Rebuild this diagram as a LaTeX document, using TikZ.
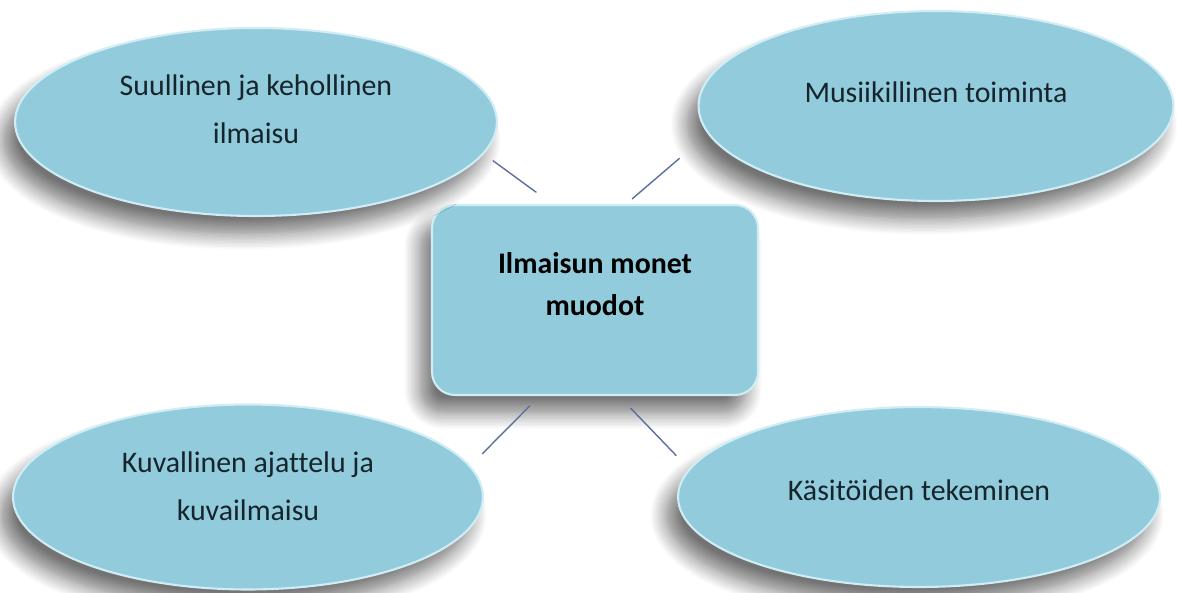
\documentclass[tikz,border=0pt]{standalone}
\usepackage{fontspec}
\setmainfont{Carlito}[Ligatures=NoCommon]
\usetikzlibrary{shapes.geometric}
\usetikzlibrary{shadows.blur}
\definecolor{kuplavari}{RGB}{146,204,220}
\definecolor{reunavari}{RGB}{208,236,244}
\definecolor{viivavari}{RGB}{92,112,158}
\definecolor{tekstivari}{RGB}{22,36,44}
\tikzstyle{every path}=[line cap=round, line join=round]
\tikzstyle{varjo}=[blur shadow={shadow xshift=-0.24cm, shadow yshift=-0.36cm, shadow blur radius=0.32cm, shadow blur steps=12, shadow opacity=55}]
\tikzstyle{kupla}=[ellipse, fill=kuplavari, draw=reunavari, line width=1.2pt, varjo]
\tikzstyle{keskus}=[rectangle, rounded corners=0.46cm, fill=kuplavari, draw=reunavari, line width=1.2pt, minimum width=6.52cm, minimum height=3.8cm, varjo]
\tikzstyle{viiva}=[draw=viivavari, line width=0.8pt]
\tikzstyle{teksti}=[align=center, text=tekstivari, font=\fontsize{17}{27.3}\selectfont]

\begin{document}
\begin{tikzpicture}[x=0.02cm,y=-0.02cm]
          \useasboundingbox (0,0) rectangle (1177,592);
          %keskus
          \node[keskus] (c) at (595,300) {};
          %kuplat
          \node[kupla, minimum width=9.64cm, minimum height=3.76cm] (tl) at (256,122) {};
          \node[kupla, minimum width=9.5cm, minimum height=3.8cm] (tr) at (936,106) {};
          \node[kupla, minimum width=9.4cm, minimum height=3.7cm] (bl) at (248,497) {};
          \node[kupla, minimum width=9.64cm, minimum height=3.6cm] (br) at (919,497) {};
          %viivat
          \draw[viiva, shorten <=0.23cm, shorten >=0.4cm] (tl.-8) -- (c.114);
          \draw[viiva, shorten <=0.75cm, shorten >=0.16cm] (tr.187) -- (c.72);
          \draw[viiva, shorten <=0.34cm, shorten >=0.28cm] (bl.8) -- (c.240);
          \draw[viiva, shorten <=0.37cm, shorten >=0.34cm] (br.173) -- (c.-76);
          %tekstit
          \node[teksti, font=\fontsize{17}{23.9}\selectfont\bfseries, text=black] (c-txt) at ([yshift=0.32cm]c.center) {Ilmaisun monet\\muodot};
          \node[teksti] (tl-txt) at ([yshift=0.26cm]tl.center) {Suullinen ja kehollinen\\ilmaisu};
          \node[teksti] (tr-txt) at ([yshift=0.28cm]tr.center) {Musiikillinen toiminta};
          \node[teksti] (bl-txt) at ([yshift=0.21cm]bl.center) {Kuvallinen ajattelu ja\\kuvailmaisu};
          \node[teksti] (br-txt) at ([yshift=0.14cm]br.center) {Käsitöiden tekeminen};
        \end{tikzpicture}
\end{document}
